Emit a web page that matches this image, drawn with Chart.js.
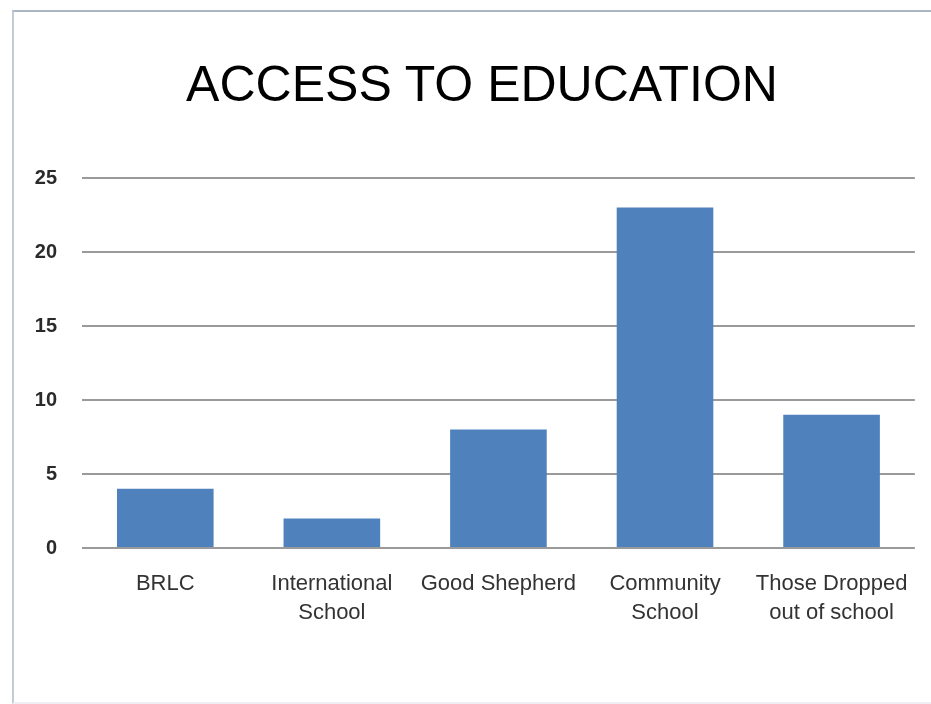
<!DOCTYPE html>
<html>
<head>
<meta charset="utf-8">
<script src="https://cdn.jsdelivr.net/npm/chart.js@4.4.0/dist/chart.umd.min.js"></script>
<style>
  html, body { margin: 0; padding: 0; background: #fff; }
  #wrap { position: relative; width: 931px; height: 704px; overflow: hidden; }
  #frame { position: absolute; left: 12px; top: 10px; width: 940px; height: 690px;
           border-left: 2px solid #c3ccd6; border-top: 2px solid #aab6c3; border-bottom: 2px solid #eef0f3; }
  canvas { position: absolute; left: 0; top: 0; }
  #title { position: absolute; left: 0; width: 964px; top: 54px; height: 60px; line-height: 60px;
           text-align: center; font-family: 'Liberation Sans', Arial, sans-serif; font-size: 50px; color: #000; }
</style>
</head>
<body>
<div id="wrap">
  <div id="frame"></div>
  <canvas id="c" width="931" height="704"></canvas>
  <div id="title"></div>
</div>
<script>
const categories = [
  "BRLC",
  ["International", "School"],
  "Good Shepherd",
  ["Community", "School"],
  ["Those Dropped", "out of school"]
];
const values = [4, 2, 8, 23, 9];
const yTicks = [0, 5, 10, 15, 20, 25];
const titleText = "ACCESS TO EDUCATION";

document.getElementById('title').textContent = titleText;

new Chart(document.getElementById('c'), {
  type: 'bar',
  data: {
    labels: categories,
    datasets: [{
      data: values,
      backgroundColor: '#4f81bd',
      borderWidth: 0,
      barPercentage: 0.58,
      categoryPercentage: 1.0
    }]
  },
  options: {
    responsive: false,
    animation: false,
    devicePixelRatio: 1,
    layout: { padding: { left: 0, right: 16, top: 178, bottom: 0 } },
    plugins: {
      legend: { display: false },
      tooltip: { enabled: false },
      title: { display: false }
    },
    scales: {
      x: {
        grid: { display: false, drawTicks: false },
        border: { display: false },
        ticks: {
          color: '#333333',
          font: { family: "'Liberation Sans', Arial, sans-serif", size: 22, lineHeight: 1.3 },
          padding: 22,
          maxRotation: 0,
          autoSkip: false
        },
        afterFit: s => { s.height = 156; }
      },
      y: {
        min: 0,
        max: 25,
        afterBuildTicks: s => { s.ticks = yTicks.map(v => ({ value: v })); },
        grid: { color: '#9a9a9a', lineWidth: 2, drawTicks: false },
        border: { display: false },
        ticks: {
          color: '#2a2a2a',
          font: { family: "'Liberation Sans', Arial, sans-serif", size: 20, weight: 'bold' },
          padding: 25
        },
        afterFit: s => { s.width = 82; }
      }
    }
  }
});
</script>
</body>
</html>
